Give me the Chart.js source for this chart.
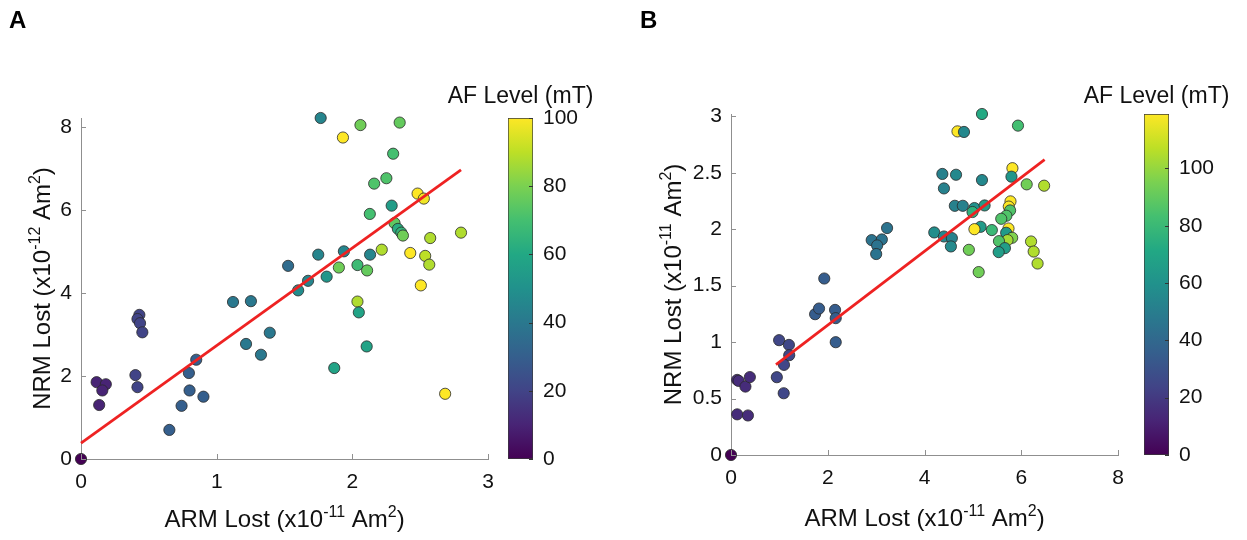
<!DOCTYPE html>
<html>
<head>
<meta charset="utf-8">
<script src="https://cdn.jsdelivr.net/npm/chart.js@4/dist/chart.umd.min.js"></script>
<style>
  html, body { margin: 0; padding: 0; background: #fff; }
  #wrap { position: relative; width: 1247px; height: 540px; overflow: hidden; }
  canvas { position: absolute; top: 0; }
</style>
</head>
<body>
<div id="wrap">
  <canvas id="chartA" width="505" height="540" style="left:0px"></canvas>
  <canvas id="barA" width="180" height="540" style="left:430px"></canvas>
  <canvas id="chartB" width="515" height="540" style="left:620px"></canvas>
  <canvas id="barB" width="187" height="540" style="left:1060px"></canvas>
</div>
<script>
// panel A : ARM lost (x1e-11) vs NRM lost (x1e-12), colour = AF level
const armA = [0, 0.115, 0.183, 0.157, 0.134, 0.430, 0.416, 0.435, 0.452, 0.401, 0.416,
  0.651, 0.741, 0.800, 0.795, 0.849, 0.902, 1.120, 1.252, 1.216, 1.326, 1.391, 1.526,
  1.766, 1.930, 2.059, 2.348, 2.300, 2.160, 2.250, 2.480, 2.526, 2.289, 2.128, 2.310,
  2.335, 2.360, 2.372, 2.573, 2.800, 2.426, 2.536, 2.566, 2.504, 2.683, 2.216, 2.130,
  1.937, 1.748, 1.673, 1.600, 1.810, 1.900, 2.037, 2.108, 2.037, 2.047, 2.105, 1.866];
const nrmA = [0, 1.85, 1.80, 1.65, 1.30, 3.47, 3.37, 3.27, 3.05, 2.02, 1.73,
  0.70, 1.28, 1.65, 2.07, 2.39, 1.50, 3.78, 3.80, 2.77, 2.51, 3.04, 4.65,
  8.21, 7.74, 8.04, 8.10, 7.35, 6.63, 6.76, 6.39, 6.27, 6.10, 5.90, 5.68,
  5.54, 5.45, 5.38, 5.32, 5.45, 4.96, 4.89, 4.68, 4.18, 1.57, 5.04, 4.92,
  5.00, 4.92, 4.29, 4.06, 4.39, 4.61, 4.67, 4.54, 3.79, 3.53, 2.71, 2.19];
const afA = [0, 10, 10, 10, 10, 20, 20, 20, 20, 20, 20,
  30, 30, 30, 30, 30, 30, 40, 40, 40, 40, 40, 35,
  45, 100, 78, 76, 70, 72, 72, 100, 98, 55, 70, 75,
  62, 65, 78, 88, 88, 100, 90, 88, 100, 100, 88, 45,
  45, 45, 45, 48, 52, 78, 68, 76, 88, 58, 58, 58];
const fitAX = [0, 2.8];
const fitAY = [0.38, 6.96];
const cbMaxA = 100;

// panel B : ARM lost (x1e-11) vs NRM lost (x1e-11)
const armB = [0, 0.128, 0.160, 0.298, 0.390, 0.128, 0.350,
  0.994, 1.197, 1.203, 1.095, 0.947, 1.089,
  1.927, 1.738, 1.819, 2.150, 2.164, 2.164,
  2.907, 3.117, 3.225, 3.020, 3.000,
  5.186, 4.680, 4.814, 5.930, 5.815, 5.795, 6.110, 6.470,
  4.367, 4.650, 4.400, 5.186, 4.625, 4.790, 5.030, 5.240, 4.990,
  5.775, 5.740, 5.767, 5.690, 5.584, 4.200, 4.400, 4.564, 4.544,
  5.158, 5.030, 5.390, 5.734, 5.686, 5.810, 5.714, 5.537, 5.660, 5.531,
  6.200, 6.254, 6.335, 4.915, 5.118];
const nrmB = [0, 0.665, 0.656, 0.606, 0.690, 0.360, 0.350,
  1.017, 0.975, 0.884, 0.798, 0.689, 0.547,
  1.563, 1.247, 1.297, 1.285, 1.212, 0.999,
  1.903, 1.909, 2.010, 1.856, 1.780,
  3.020, 2.866, 2.861, 2.917, 2.540, 2.465, 2.397, 2.385,
  2.489, 2.482, 2.361, 2.435, 2.207, 2.207, 2.187, 2.210, 2.152,
  2.246, 2.200, 2.166, 2.119, 2.092, 1.971, 1.935, 1.921, 1.847,
  2.021, 2.000, 1.992, 2.006, 1.968, 1.924, 1.903, 1.894, 1.832, 1.797,
  1.891, 1.802, 1.696, 1.817, 1.620];
const afB = [0, 15, 15, 15, 15, 15, 15,
  25, 25, 25, 25, 25, 25,
  35, 35, 35, 35, 35, 35,
  45, 45, 45, 45, 45,
  72, 119, 55, 83, 119, 62, 93, 105,
  52, 55, 52, 55, 52, 52, 60, 66, 76,
  119, 119, 86, 86, 86, 58, 55, 52, 56,
  64, 119, 80, 119, 64, 96, 103, 86, 66, 66,
  105, 105, 105, 93, 93];
const fitBX = [0.93, 6.48];
const fitBY = [0.80, 2.615];
const cbMaxB = 119;

const cbTicks = [0, 20, 40, 60, 80, 100];

// viridis colormap
const VIRIDIS = ['#440154', '#482475', '#414487', '#355f8d', '#2a788e', '#21918c',
  '#22a884', '#44bf70', '#7ad151', '#bddf26', '#fde725'];

function hexRgb(h) {
  return [parseInt(h.substr(1, 2), 16), parseInt(h.substr(3, 2), 16), parseInt(h.substr(5, 2), 16)];
}
function viridis(t) {
  t = Math.max(0, Math.min(1, t));
  const p = t * (VIRIDIS.length - 1);
  const i = Math.min(Math.floor(p), VIRIDIS.length - 2);
  const f = p - i;
  const a = hexRgb(VIRIDIS[i]), b = hexRgb(VIRIDIS[i + 1]);
  const c = a.map((v, k) => Math.round(v + (b[k] - v) * f));
  return `rgb(${c[0]},${c[1]},${c[2]})`;
}

const FONT = "'Liberation Sans', Arial, Helvetica, sans-serif";
const TEXT = '#111';
const AXIS = '#8f8f8f';
Chart.defaults.font.family = FONT;
Chart.defaults.font.size = 21;
Chart.defaults.color = TEXT;
Chart.defaults.animation = false;

// draw text with superscript parts, centred on (x, y) baseline
function drawRich(ctx, parts, x, y, angle) {
  ctx.save();
  ctx.translate(x, y);
  ctx.rotate(angle);
  ctx.fillStyle = TEXT;
  ctx.textBaseline = 'alphabetic';
  ctx.textAlign = 'left';
  let total = 0;
  const widths = parts.map(p => {
    ctx.font = (p.sup ? '16px ' : '24px ') + FONT;
    const w = ctx.measureText(p.t).width;
    total += w;
    return w;
  });
  let cx = -total / 2;
  parts.forEach((p, i) => {
    ctx.font = (p.sup ? '16px ' : '24px ') + FONT;
    ctx.fillText(p.t, cx, p.sup ? -10 : 0);
    cx += widths[i];
  });
  ctx.restore();
}

const decorPlugin = {
  id: 'decor',
  afterDraw(chart, args, opts) {
    const ctx = chart.ctx;
    const a = chart.chartArea;
    if (opts.inTicks) {
      ctx.save();
      ctx.strokeStyle = AXIS;
      ctx.lineWidth = 1;
      ctx.beginPath();
      chart.scales.x.ticks.forEach(t => {
        const px = Math.round(chart.scales.x.getPixelForValue(t.value)) + 0.5;
        ctx.moveTo(px, a.bottom);
        ctx.lineTo(px, a.bottom - 5);
      });
      chart.scales.y.ticks.forEach(t => {
        const py = Math.round(chart.scales.y.getPixelForValue(t.value)) + 0.5;
        ctx.moveTo(a.left, py);
        ctx.lineTo(a.left + 5, py);
      });
      ctx.stroke();
      ctx.restore();
    }
    if (opts.cbTicks) {
      ctx.save();
      ctx.strokeStyle = '#333';
      ctx.lineWidth = 1;
      ctx.beginPath();
      chart.scales.y.ticks.forEach(t => {
        const py = Math.round(chart.scales.y.getPixelForValue(t.value)) + 0.5;
        ctx.moveTo(a.right, py);
        ctx.lineTo(a.right - 4, py);
      });
      ctx.stroke();
      ctx.restore();
    }
    if (opts.xTitle) drawRich(ctx, opts.xTitle, (a.left + a.right) / 2, a.bottom + opts.xGap, 0);
    if (opts.yTitle) drawRich(ctx, opts.yTitle, a.left - opts.yGap, (a.top + a.bottom) / 2, -Math.PI / 2);
    if (opts.cbTitle) {
      ctx.save();
      ctx.font = '23px ' + FONT;
      ctx.fillStyle = TEXT;
      ctx.textAlign = 'center';
      ctx.fillText(opts.cbTitle, (a.left + a.right) / 2, opts.cbTitleY);
      ctx.restore();
    }
    if (opts.letter) {
      ctx.save();
      ctx.font = 'bold 24px ' + FONT;
      ctx.fillStyle = '#000';
      ctx.textAlign = 'left';
      ctx.fillText(opts.letter, opts.letterX, 28);
      ctx.restore();
    }
  }
};

const plainTick = v => String(Number(v.toFixed(3)));

function scatterChart(id, xs, ys, afs, cbMax, fx, fy, cfg) {
  return new Chart(document.getElementById(id), {
    type: 'scatter',
    data: {
      datasets: [
        {
          type: 'line',
          data: fx.map((x, i) => ({ x, y: fy[i] })),
          borderColor: '#ee2222',
          borderWidth: 2.8,
          pointRadius: 0,
          fill: false,
          clip: false
        },
        {
          data: xs.map((x, i) => ({ x, y: ys[i] })),
          pointRadius: 5.6,
          pointHoverRadius: 5.6,
          pointBorderWidth: 0.8,
          pointBorderColor: '#2a2a2a',
          pointBackgroundColor: afs.map(v => viridis(v / cbMax)),
          clip: false
        }
      ]
    },
    options: {
      responsive: false,
      layout: { padding: cfg.padding },
      plugins: {
        legend: { display: false },
        tooltip: { enabled: false },
        decor: {
          inTicks: true,
          xTitle: cfg.xTitle, xGap: cfg.xGap,
          yTitle: cfg.yTitle, yGap: cfg.yGap,
          letter: cfg.letter, letterX: cfg.letterX
        }
      },
      scales: {
        x: {
          type: 'linear', min: cfg.xMin, max: cfg.xMax,
          ticks: { stepSize: cfg.xStep, padding: 11, includeBounds: false, color: TEXT, callback: plainTick },
          grid: { display: false, drawTicks: false },
          border: { display: true, color: AXIS, width: 1 },
          afterFit: s => { s.height = 50; }
        },
        y: {
          type: 'linear', min: cfg.yMin, max: cfg.yMax,
          ticks: { stepSize: cfg.yStep, padding: 9, includeBounds: false, color: TEXT, callback: plainTick },
          grid: { display: false, drawTicks: false },
          border: { display: true, color: AXIS, width: 1 },
          afterFit: s => { s.width = 60; }
        }
      }
    },
    plugins: [decorPlugin]
  });
}

function colorBar(id, cbMax, padding) {
  return new Chart(document.getElementById(id), {
    type: 'bar',
    data: {
      labels: [''],
      datasets: [{
        data: [cbMax],
        barPercentage: 1,
        categoryPercentage: 1,
        borderWidth: 1,
        borderColor: '#3a3a3a',
        borderSkipped: false,
        backgroundColor: c => {
          const a = c.chart.chartArea;
          if (!a) return '#888';
          const g = c.chart.ctx.createLinearGradient(0, a.bottom, 0, a.top);
          VIRIDIS.forEach((col, i) => g.addColorStop(i / (VIRIDIS.length - 1), col));
          return g;
        }
      }]
    },
    options: {
      responsive: false,
      layout: { padding },
      plugins: {
        legend: { display: false },
        tooltip: { enabled: false },
        decor: { cbTicks: true, cbTitle: 'AF Level (mT)', cbTitleY: 103 }
      },
      scales: {
        x: { display: false },
        y: {
          position: 'right', min: 0, max: cbMax,
          afterBuildTicks: s => { s.ticks = cbTicks.map(v => ({ value: v })); },
          ticks: { padding: 10, color: TEXT },
          grid: { display: false, drawTicks: false },
          border: { display: false },
          afterFit: s => { s.width = 50; }
        }
      }
    },
    plugins: [decorPlugin]
  });
}

scatterChart('chartA', armA, nrmA, afA, cbMaxA, fitAX, fitAY, {
  padding: { left: 21, right: 15, top: 118, bottom: 31 },
  xMin: 0, xMax: 3, xStep: 1, yMin: 0, yMax: 8.21, yStep: 2,
  xTitle: [{ t: 'ARM Lost (x10' }, { t: '-11', sup: true }, { t: ' Am' }, { t: '2', sup: true }, { t: ')' }],
  xGap: 68,
  yTitle: [{ t: 'NRM Lost (x10' }, { t: '-12', sup: true }, { t: ' Am' }, { t: '2', sup: true }, { t: ')' }],
  yGap: 31,
  letter: 'A', letterX: 9
});
colorBar('barA', cbMaxA, { left: 78, right: 27, top: 118, bottom: 81 });

scatterChart('chartB', armB, nrmB, afB, cbMaxB, fitBX, fitBY, {
  padding: { left: 51, right: 9, top: 114, bottom: 35 },
  xMin: 0, xMax: 8, xStep: 2, yMin: 0, yMax: 3.02, yStep: 0.5,
  xTitle: [{ t: 'ARM Lost (x10' }, { t: '-11', sup: true }, { t: ' Am' }, { t: '2', sup: true }, { t: ')' }],
  xGap: 71,
  yTitle: [{ t: 'NRM Lost (x10' }, { t: '-11', sup: true }, { t: ' Am' }, { t: '2', sup: true }, { t: ')' }],
  yGap: 50,
  letter: 'B', letterX: 20
});
colorBar('barB', cbMaxB, { left: 84, right: 28, top: 114, bottom: 85 });
</script>
</body>
</html>
